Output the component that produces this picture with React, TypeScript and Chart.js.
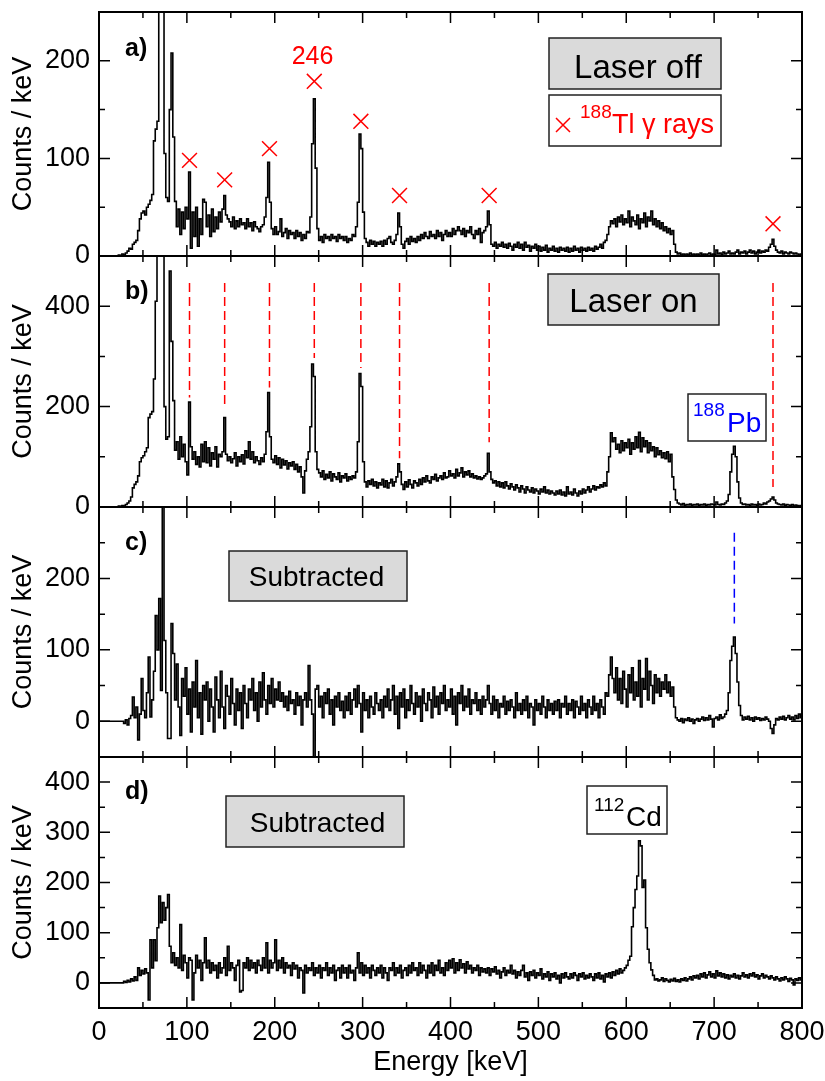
import React, { useEffect, useRef } from "react";
import { Chart, registerables } from "chart.js";

Chart.register(...registerables);

const FONT = '"Liberation Sans", Arial, Helvetica, sans-serif';
const BIN_KEV = 2;

// a) Laser off, counts per 2 keV bin (0-800 keV)
const laserOff = [
  0,0,0,0,0,0,0,0,0,0,0,1,0,2,1,3,5,8,7,12,
  14,16,26,38,44,46,42,50,53,57,63,118,130,138,270,300,290,105,60,56,
  150,208,122,56,30,48,22,45,28,50,38,86,8,45,20,50,10,38,22,58,
  55,30,42,20,48,25,40,28,45,35,48,62,42,38,35,30,40,28,36,30,
  38,32,34,28,38,30,34,26,35,30,28,25,30,32,40,60,96,55,28,22,
  30,22,25,38,20,24,28,18,26,22,24,18,26,20,24,16,22,18,25,24,
  40,115,161,90,28,16,20,14,22,18,20,16,22,18,20,15,22,18,20,16,
  20,14,18,16,22,20,30,55,125,110,45,18,14,10,16,12,15,10,14,12,
  15,10,16,12,18,20,14,12,16,22,44,30,12,8,15,18,12,20,15,18,
  14,20,16,22,18,24,20,18,25,20,22,18,26,20,24,16,22,26,20,24,
  20,28,22,26,30,26,22,28,20,26,24,30,22,18,26,22,28,14,24,26,
  30,46,32,12,10,14,8,12,10,14,9,12,8,13,10,6,12,9,14,8,
  12,6,14,9,11,5,10,8,12,6,10,5,9,6,11,4,8,6,10,5,
  8,4,9,6,8,5,9,4,8,5,10,6,8,4,9,6,8,5,9,6,
  8,5,10,7,9,12,8,14,16,22,30,36,33,38,30,40,35,42,32,38,
  34,46,30,40,36,32,42,28,38,34,44,30,40,36,46,32,38,30,36,28,
  34,26,30,24,28,22,26,12,4,2,3,1,2,1,2,1,3,1,2,1,
  2,1,3,1,2,1,2,3,1,2,1,6,2,3,1,4,2,3,5,2,
  3,2,4,6,2,4,3,5,2,4,6,3,5,2,4,6,3,5,4,6,
  5,9,12,17,10,6,4,3,5,2,4,3,2,4,3,2,3,2,1,2,
];

// b) Laser on
const laserOn = [
  0,0,0,0,0,0,0,0,0,0,0,2,1,3,2,5,8,12,20,38,
  45,50,62,90,98,102,110,118,178,185,190,255,410,520,600,600,520,200,135,140,
  470,330,212,113,130,95,140,100,125,90,64,209,120,95,110,85,100,80,125,90,
  130,88,118,82,108,95,120,80,105,100,110,178,105,92,100,88,96,108,82,100,
  90,104,86,112,98,130,95,110,88,100,92,85,98,90,105,150,228,140,95,88,
  102,85,98,78,95,84,92,76,88,82,90,75,85,70,80,60,28,72,95,110,
  160,285,260,110,75,68,60,72,55,65,58,70,52,66,60,55,68,50,62,58,
  66,52,60,55,62,58,70,130,266,240,90,50,40,52,45,55,42,50,38,48,
  44,55,40,52,38,48,55,42,50,60,86,70,45,35,50,40,54,45,38,52,
  48,42,55,45,58,50,62,52,48,60,55,65,52,58,62,55,68,58,60,72,
  62,66,58,75,62,68,78,60,70,64,72,60,66,58,62,56,60,55,58,62,
  66,107,70,55,48,52,42,50,40,48,38,50,42,36,46,40,34,44,38,30,
  42,36,28,40,34,30,38,28,36,32,26,36,30,40,28,34,26,32,28,24,
  32,26,34,24,30,22,40,26,30,24,36,28,22,32,26,36,28,34,40,30,
  36,42,34,40,38,44,40,48,42,70,100,148,130,138,115,125,108,132,112,128,
  118,135,105,128,115,140,118,149,110,138,120,132,108,128,112,120,100,118,104,112,
  98,108,96,110,90,105,60,35,14,8,6,4,7,3,5,4,6,3,5,4,
  6,3,5,4,6,3,5,4,6,5,4,10,5,4,6,5,8,12,25,70,
  105,121,100,50,18,8,5,6,4,5,3,6,4,5,3,6,4,5,8,6,
  10,12,16,20,14,8,6,5,4,6,3,5,4,3,5,2,4,3,2,3,
];

// c) Subtracted
const subtractedC = [
  0,0,0,0,0,0,0,0,0,0,0,0,0,0,-3,2,-5,4,8,34,
  5,20,-26,10,60,15,5,40,90,6,30,70,148,100,172,43,400,113,40,-24,
  -24,137,95,30,80,20,-20,60,35,75,10,45,-15,55,20,85,5,40,-18,50,
  30,55,0,45,20,-15,62,30,5,70,20,-10,50,35,10,60,25,-5,45,15,
  40,-10,50,25,5,45,30,60,15,40,0,55,20,68,30,10,50,25,60,20,
  45,30,55,28,40,20,35,15,42,25,30,10,40,22,35,-5,30,40,20,78,
  30,10,-90,45,50,20,35,5,40,25,45,10,30,-5,35,20,40,15,28,5,
  35,15,40,10,30,45,20,50,25,-15,40,15,30,5,35,20,10,40,25,15,
  30,5,35,20,45,15,30,50,10,35,-10,40,20,45,5,30,15,50,25,10,
  40,20,35,0,45,25,15,40,30,5,48,20,35,10,40,25,50,15,30,20,
  45,10,35,-5,40,25,50,15,35,20,45,10,30,25,40,15,30,10,35,20,
  30,50,25,10,35,15,30,5,25,20,35,10,28,15,30,20,5,40,15,25,
  10,30,15,35,5,25,20,-5,30,15,25,10,35,20,5,30,15,25,10,28,
  15,30,5,25,20,35,10,25,15,30,5,28,20,10,35,15,25,5,30,20,
  10,35,15,25,5,30,20,10,40,35,65,90,60,40,75,30,60,25,70,45,
  20,65,40,75,30,55,35,85,20,60,45,88,30,70,50,25,65,40,60,35,
  55,45,65,40,55,35,48,20,5,2,0,4,-2,3,1,5,0,3,-3,2,
  4,0,3,6,1,5,2,8,3,-8,4,6,2,9,4,6,10,15,40,85,
  105,118,95,55,22,8,2,6,3,7,2,5,0,6,3,5,1,4,2,6,
  3,0,-10,-17,-5,4,2,6,3,7,2,5,8,3,6,2,8,4,10,5,
];

// d) Subtracted (112Cd)
const subtractedD = [
  0,0,0,0,0,0,0,0,0,0,0,0,0,0,3,1,5,2,8,4,
  12,5,30,15,25,18,28,20,-34,86,30,86,44,110,173,120,160,125,150,176,
  73,40,60,35,50,30,116,25,55,40,10,50,45,-34,20,55,30,45,5,40,
  90,30,45,20,40,25,35,10,40,20,30,50,15,73,25,40,30,5,35,45,
  -18,-15,40,30,50,25,45,30,40,20,45,35,25,50,30,80,20,45,30,40,
  86,25,45,30,50,20,40,30,35,15,40,28,35,10,30,25,-20,35,20,30,
  25,40,15,30,20,35,10,30,25,40,15,30,20,35,5,25,30,10,35,20,
  30,10,35,20,25,5,30,60,20,40,15,35,20,30,10,35,25,15,30,20,
  35,10,30,20,5,30,25,40,15,30,20,35,10,25,30,15,35,20,40,25,
  30,15,40,20,35,25,10,35,20,40,15,35,25,45,20,30,15,40,25,45,
  30,48,20,40,25,46,30,38,20,42,28,35,20,30,25,35,15,30,22,28,
  20,30,15,28,22,32,18,25,10,22,30,15,25,20,35,18,25,10,22,15,
  25,35,12,20,5,22,15,25,10,20,15,28,8,18,12,22,5,18,12,20,
  8,15,0,18,10,20,12,8,18,10,20,15,5,18,12,20,8,15,10,18,
  12,5,18,10,20,8,15,2,18,12,20,10,22,15,25,18,28,20,25,30,
  35,45,53,112,150,186,213,283,273,190,205,110,67,40,26,15,6,8,4,6,
  10,3,8,5,2,7,4,9,3,6,2,8,5,10,4,8,12,6,14,10,
  15,8,18,12,20,10,16,22,12,18,10,24,14,20,12,18,10,16,8,15,
  12,18,10,15,8,14,20,12,16,10,18,14,20,12,16,8,14,18,10,15,
  12,8,14,10,6,12,8,4,10,6,12,8,3,9,6,-4,8,5,10,6,
];

// 188Tl gamma lines (keV) and marker / dashed-line heights (counts/keV)
const tlEnergies = [103, 143, 194, 245, 298, 342, 444, 767];
const tlMarkerCounts = [98, 78, 110, 179, 138, 62, 62, 33];
const tlLineTopCounts = [446, 446, 446, 446, 446, 446, 446, 446];
const tlLineBottomCounts = [218, 198, 238, 297, 277, 97, 129, 40];
// 188Pb line
const pbEnergies = [723];
const pbLineTopCounts = [264];
const pbLineBottomCounts = [137];

// tick values
const xTickValues = [0, 100, 200, 300, 400, 500, 600, 700, 800];
const yLabelsA = [0, 100, 200];
const yLabelsB = [0, 200, 400];
const yLabelsC = [0, 100, 200];
const yLabelsD = [0, 100, 200, 300, 400];

const W = 825;
const H = 1081;
const AREA_LEFT = 99;
const AREA_RIGHT = 802;
const RED = "#ff0000";
const BLUE = "#0000ff";
const GRAY = "#dadada";

const energies = laserOff.map((_, i) => i * BIN_KEV + BIN_KEV / 2);

function drawBox(ctx: any, x: number, y: number, w: number, h: number, fill: string) {
  ctx.save();
  ctx.fillStyle = fill;
  ctx.fillRect(x, y, w, h);
  ctx.lineWidth = 1.5;
  ctx.strokeStyle = "#222";
  ctx.strokeRect(x, y, w, h);
  ctx.restore();
}

function drawText(ctx: any, s: string, x: number, y: number, size: number, color: string, align = "left", bold = false) {
  ctx.save();
  ctx.font = `${bold ? "bold " : ""}${size}px ${FONT}`;
  ctx.fillStyle = color;
  ctx.textAlign = align;
  ctx.textBaseline = "alphabetic";
  ctx.fillText(s, x, y);
  ctx.restore();
}

function drawCross(ctx: any, x: number, y: number, r: number, color: string) {
  ctx.save();
  ctx.strokeStyle = color;
  ctx.lineWidth = 1.5;
  ctx.beginPath();
  ctx.moveTo(x - r, y - r);
  ctx.lineTo(x + r, y + r);
  ctx.moveTo(x + r, y - r);
  ctx.lineTo(x - r, y + r);
  ctx.stroke();
  ctx.restore();
}

const dashed = (e: number, top: number, bottom: number, color: string) => ({
  data: [{ x: e, y: top }, { x: e, y: bottom }],
  borderColor: color,
  borderWidth: 1.5,
  borderDash: [9, 5],
  pointRadius: 0,
});

const PANELS = [
  {
    key: "a",
    values: laserOff,
    labels: yLabelsA,
    yMin: 0, yMax: 250, major: 100, minor: 50,
    areaTop: 5, areaBottom: 256, showX: false, opaque: false,
    extra: [
      {
        data: tlEnergies.map((e, i) => ({ x: e, y: tlMarkerCounts[i] })),
        showLine: false,
        pointStyle: "crossRot",
        pointRadius: 10.5,
        pointBorderWidth: 1.5,
        pointBorderColor: RED,
        pointBackgroundColor: RED,
        borderColor: RED,
      },
    ],
    deco: (ctx: any, l: number, t: number) => {
      drawText(ctx, "a)", l + 26, t + 44, 25, "#000", "left", true);
      drawText(ctx, "246", l + 213.5, t + 52, 25, RED, "center");
      drawBox(ctx, l + 450, t + 26, 172, 51, GRAY);
      drawText(ctx, "Laser off", l + 539, t + 66, 33, "#000", "center");
      drawBox(ctx, l + 450, t + 83, 172, 51, "#fff");
      drawCross(ctx, l + 464, t + 113, 7, RED);
      drawText(ctx, "188", l + 481, t + 106, 19, RED);
      drawText(ctx, "Tl \u03b3 rays", l + 513, t + 121, 27, RED);
    },
  },
  {
    key: "b",
    values: laserOn,
    labels: yLabelsB,
    yMin: 0, yMax: 500, major: 200, minor: 100,
    areaTop: 256, areaBottom: 507, showX: false, opaque: true,
    extra: tlEnergies.map((e, i) => dashed(e, tlLineTopCounts[i], tlLineBottomCounts[i], RED)),
    deco: (ctx: any, l: number, t: number) => {
      drawText(ctx, "b)", l + 26, t + 43, 25, "#000", "left", true);
      drawBox(ctx, l + 449, t + 18, 171, 51, GRAY);
      drawText(ctx, "Laser on", l + 534.5, t + 56, 33, "#000", "center");
      drawBox(ctx, l + 589, t + 138, 78, 47, "#fff");
      drawText(ctx, "188", l + 594, t + 160, 19, BLUE);
      drawText(ctx, "Pb", l + 628, t + 176, 28, BLUE);
    },
  },
  {
    key: "c",
    values: subtractedC,
    labels: yLabelsC,
    yMin: -50, yMax: 300, major: 100, minor: 50,
    areaTop: 507, areaBottom: 757, showX: false, opaque: false,
    extra: pbEnergies.map((e, i) => dashed(e, pbLineTopCounts[i], pbLineBottomCounts[i], BLUE)),
    deco: (ctx: any, l: number, t: number) => {
      drawText(ctx, "c)", l + 26, t + 43, 25, "#000", "left", true);
      drawBox(ctx, l + 130, t + 44, 178, 50, GRAY);
      drawText(ctx, "Subtracted", l + 217.5, t + 79, 28, "#000", "center");
    },
  },
  {
    key: "d",
    values: subtractedD,
    labels: yLabelsD,
    yMin: -50, yMax: 450, major: 100, minor: 50,
    areaTop: 757, areaBottom: 1008, showX: true, opaque: false,
    extra: [],
    deco: (ctx: any, l: number, t: number) => {
      drawText(ctx, "d)", l + 26, t + 42, 25, "#000", "left", true);
      drawBox(ctx, l + 127, t + 39, 178, 51, GRAY);
      drawText(ctx, "Subtracted", l + 218.5, t + 75, 28, "#000", "center");
      drawBox(ctx, l + 488, t + 29, 80, 48, "#fff");
      drawText(ctx, "112", l + 495, t + 54, 19, "#000");
      drawText(ctx, "Cd", l + 527, t + 69, 28, "#000");
    },
  },
];

function buildConfig(p: any): any {
  const decoPlugin = {
    id: "panelDeco",
    beforeDraw(chart: any) {
      if (!p.opaque) return;
      const a = chart.chartArea;
      const ctx = chart.ctx;
      ctx.save();
      ctx.fillStyle = "#fff";
      ctx.fillRect(a.left, a.top, a.right - a.left, a.bottom - a.top);
      ctx.restore();
    },
    afterDraw(chart: any) {
      const ctx = chart.ctx;
      const a = chart.chartArea;
      const xs = chart.scales.x;
      const ys = chart.scales.y;
      ctx.save();
      ctx.strokeStyle = "#000";
      ctx.lineWidth = 1.5;
      ctx.beginPath();
      for (let i = 0; i < xTickValues.length; i++) {
        const v = xTickValues[i];
        const px = xs.getPixelForValue(v);
        ctx.moveTo(px, a.top); ctx.lineTo(px, a.top + 11);
        ctx.moveTo(px, a.bottom); ctx.lineTo(px, a.bottom - 11);
        if (i < xTickValues.length - 1) {
          const m = xs.getPixelForValue((v + xTickValues[i + 1]) / 2);
          ctx.moveTo(m, a.top); ctx.lineTo(m, a.top + 6);
          ctx.moveTo(m, a.bottom); ctx.lineTo(m, a.bottom - 6);
        }
      }
      for (let v = Math.ceil(p.yMin / p.minor) * p.minor; v <= p.yMax; v += p.minor) {
        const py = ys.getPixelForValue(v);
        const len = v % p.major === 0 ? 11 : 6;
        ctx.moveTo(a.left, py); ctx.lineTo(a.left + len, py);
        ctx.moveTo(a.right, py); ctx.lineTo(a.right - len, py);
      }
      ctx.stroke();
      ctx.lineWidth = 2;
      ctx.strokeRect(a.left, a.top, a.right - a.left, a.bottom - a.top);
      ctx.restore();
      p.deco(ctx, a.left, a.top);
    },
  };

  return {
    type: "line",
    data: {
      datasets: [
        {
          data: p.values.map((v: number, i: number) => ({ x: energies[i], y: v })),
          borderColor: "#000",
          borderWidth: 1.6,
          pointRadius: 0,
          stepped: "middle",
        },
        ...p.extra,
      ],
    },
    options: {
      responsive: false,
      animation: false,
      events: [],
      layout: {
        padding: {
          left: 0,
          right: W - AREA_RIGHT,
          top: p.areaTop,
          bottom: p.showX ? 0 : H - p.areaBottom,
        },
      },
      plugins: { legend: { display: false }, tooltip: { enabled: false } },
      scales: {
        x: {
          type: "linear",
          min: 0,
          max: 800,
          display: p.showX,
          grid: { display: false, drawTicks: false },
          border: { display: false },
          afterBuildTicks: (s: any) => {
            s.ticks = xTickValues.map((v) => ({ value: v }));
          },
          ticks: {
            autoSkip: false,
            maxRotation: 0,
            padding: 8,
            color: "#000",
            font: { family: FONT, size: 27 },
          },
          title: {
            display: true,
            text: "Energy [keV]",
            color: "#000",
            font: { family: FONT, size: 27 },
            padding: { top: 0, bottom: 2 },
          },
          afterFit: (s: any) => {
            if (p.showX) {
              s.height = H - p.areaBottom;
              s.paddingLeft = 0;
              s.paddingRight = 0;
            } else {
              s.height = 0;
            }
          },
        },
        y: {
          type: "linear",
          min: p.yMin,
          max: p.yMax,
          grid: { display: false, drawTicks: false },
          border: { display: false },
          afterBuildTicks: (s: any) => {
            s.ticks = p.labels.map((v: number) => ({ value: v }));
          },
          ticks: {
            padding: 9,
            color: "#000",
            font: { family: FONT, size: 27 },
          },
          title: {
            display: true,
            text: "Counts / keV",
            color: "#000",
            font: { family: FONT, size: 27 },
            padding: { top: 7, bottom: 0 },
          },
          afterFit: (s: any) => {
            s.width = AREA_LEFT;
            s.paddingTop = 0;
            s.paddingBottom = 0;
          },
        },
      },
    },
    plugins: [decoPlugin],
  };
}

export default function App() {
  const r0 = useRef<HTMLCanvasElement>(null);
  const r1 = useRef<HTMLCanvasElement>(null);
  const r2 = useRef<HTMLCanvasElement>(null);
  const r3 = useRef<HTMLCanvasElement>(null);
  const refs = [r0, r1, r2, r3];

  useEffect(() => {
    const charts = PANELS.map((p, i) => new Chart(refs[i].current as HTMLCanvasElement, buildConfig(p)));
    return () => charts.forEach((c) => c.destroy());
  }, []);

  return (
    <div style={{ position: "absolute", left: 0, top: 0, width: W, height: H, background: "#fff" }}>
      {PANELS.map((p, i) => (
        <canvas
          key={p.key}
          ref={refs[i]}
          width={W}
          height={H}
          style={{ position: "absolute", left: 0, top: 0, width: W, height: H }}
        />
      ))}
    </div>
  );
}
